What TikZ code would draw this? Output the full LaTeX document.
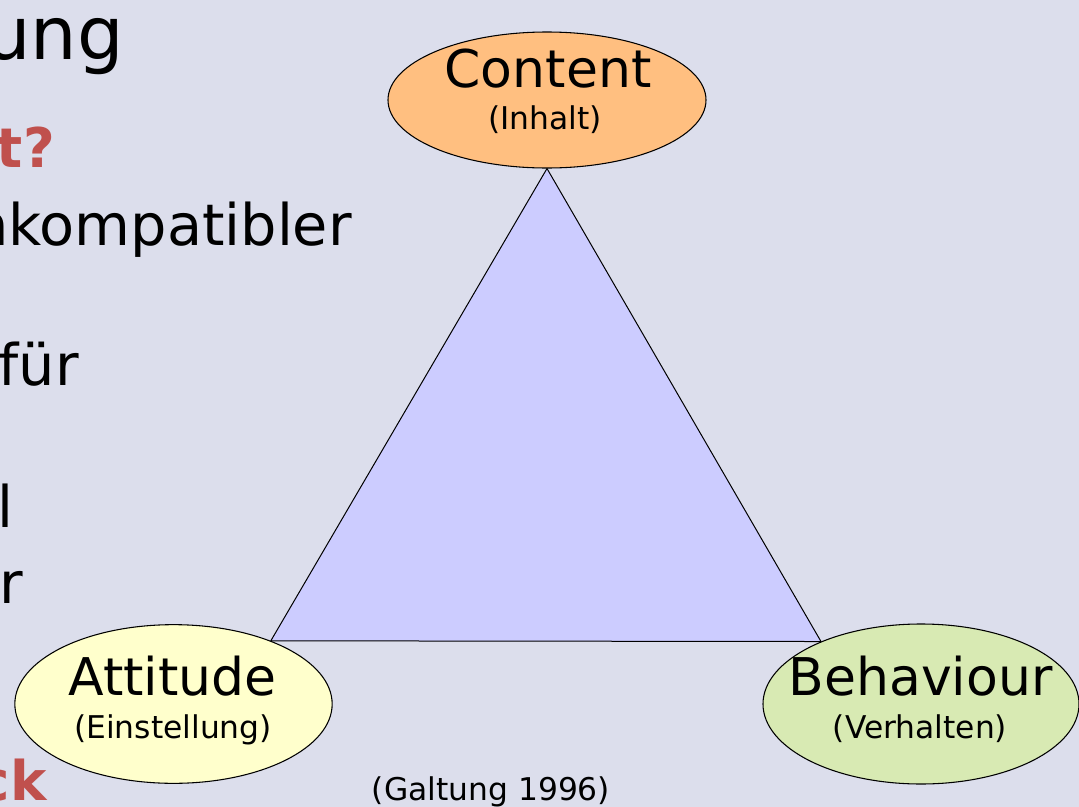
\documentclass[tikz,border=0pt]{standalone}
\usepackage{fontspec}
\setmainfont{DejaVu Sans}
\usetikzlibrary{shapes.geometric}
\definecolor{slidebg}{HTML}{DCDEEC}
\definecolor{trifill}{HTML}{CCCCFF}
\definecolor{contentcol}{HTML}{FFBF80}
\definecolor{attitudecol}{HTML}{FFFFCC}
\definecolor{behaviourcol}{HTML}{D8EAB3}
\definecolor{slidered}{HTML}{C0504D}
\pgfdeclarelayer{bg}
\pgfdeclarelayer{tri}
\pgfsetlayers{bg,tri,main}

\begin{document}
\begin{tikzpicture}[x=0.75pt,y=-0.75pt,
  corner/.style={ellipse,draw=black,line width=0.8pt,inner sep=0pt},
  big/.style={font=\fontsize{39}{47}\selectfont,anchor=base,inner sep=0pt},
  small/.style={font=\fontsize{23.5}{28}\selectfont,anchor=base,inner sep=0pt},
  body/.style={font=\fontsize{43}{52}\selectfont,anchor=base east,inner sep=0pt},
  redbody/.style={body,font=\fontsize{41}{50}\selectfont\bfseries,text=slidered}]
\useasboundingbox (0,0) rectangle (1079,807);
\begin{pgfonlayer}{bg}
\fill[slidebg] (0,0) rectangle (1079,807);
\end{pgfonlayer}
% slide text cut off at the left
\node[body,font=\fontsize{55}{66}\selectfont] (title) at (124,59) {ung};
\node[redbody] (question) at (55,167) {t?};
\node[body] (line1) at (352,245) {nkompatibler};
\node[body] (line2) at (79,385) {für};
\node[body] (line3) at (14,527) {l};
\node[body] (line4) at (23,603) {r};
\node[redbody] (line5) at (47,800) {ck};
% the three corners
\node[corner,fill=contentcol,minimum width=238.5pt,minimum height=102pt] (content) at (547,100) {};
\node[corner,fill=attitudecol,minimum width=238pt,minimum height=119pt] (attitude) at (173.5,704) {};
\node[corner,fill=behaviourcol,minimum width=237pt,minimum height=120pt] (behaviour) at (921,704) {};
\begin{pgfonlayer}{tri}
\draw[fill=trifill,line width=0.75pt] (content.south) -- (attitude.33) -- (behaviour.148) -- cycle;
\end{pgfonlayer}
\node[big] (contentname) at (548,87) {Content};
\node[small] (contentde) at (545,129) {(Inhalt)};
\node[big] (attitudename) at (172.5,695) {Attitude};
\node[small] (attitudede) at (173,738) {(Einstellung)};
\node[big] (behaviourname) at (920.5,695) {Behaviour};
\node[small] (behaviourde) at (920,738) {(Verhalten)};
\node[small] (source) at (491,800) {(Galtung 1996)};
\end{tikzpicture}
\end{document}
